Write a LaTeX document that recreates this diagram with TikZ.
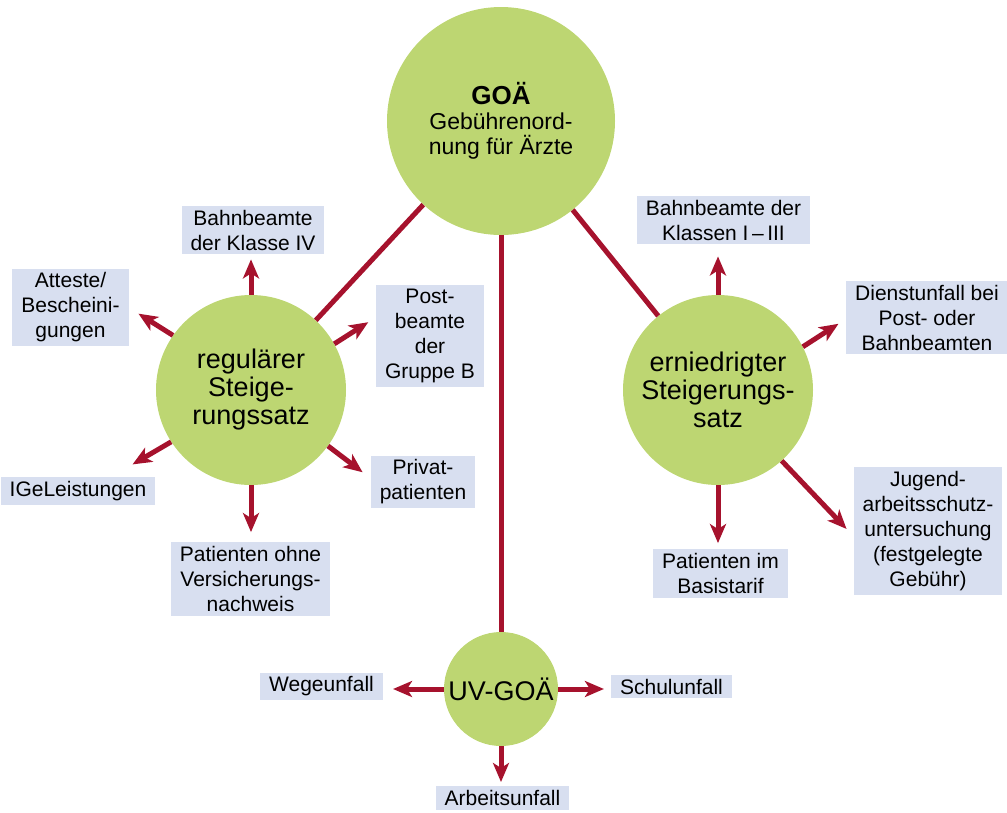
\documentclass[tikz,border=0pt]{standalone}
\usepackage{fontspec}
\setmainfont{Liberation Sans}
\usetikzlibrary{arrows.meta}
\definecolor{goagreen}{HTML}{BDD672}
\definecolor{goared}{HTML}{A6122D}
\definecolor{goabox}{HTML}{D8DFF0}
\tikzset{
  satz/.style={circle,fill=goagreen,inner sep=0pt,align=center,font=\fontsize{27}{28}\selectfont},
  fall/.style={fill=goabox,inner xsep=9pt,inner ysep=4pt,align=center,font=\fontsize{21}{25}\selectfont},
  link/.style={goared,line width=5pt},
  pfeil/.style={link,-{Stealth[length=19pt,width=16pt,inset=5pt]}}
}

\begin{document}
\begin{tikzpicture}[x=1pt,y=-1pt]
  \useasboundingbox (0,0) rectangle (1007,812);
  % circles
  \node[satz,minimum size=228pt,font=\fontsize{23}{25}\selectfont] (goae) at (501,121)
    {{\fontsize{26}{25}\selectfont\bfseries GOÄ}\\Gebührenord-\\nung für Ärzte};
  \node[satz,minimum size=190pt] (reg) at (251,390) {regulärer\\Steige-\\rungssatz};
  \node[satz,minimum size=190pt] (ern) at (718,390) {erniedrigter\\Steigerungs-\\satz};
  \node[satz,minimum size=114pt] (uv) at (501,689) {UV-GOÄ};
  % boxes
  \node[fall] (bb4) at (253,230) {Bahnbeamte\\der Klasse IV};
  \node[fall] (att) at (70.5,307.5) {Atteste/\\Bescheini-\\gungen};
  \node[fall] (post) at (430,336) {Post-\\beamte\\der\\Gruppe B};
  \node[fall] (priv) at (423,482) {Privat-\\patienten};
  \node[fall] (igel) at (78,491) {IGeLeistungen};
  \node[fall] (pohne) at (250.5,579) {Patienten ohne\\Versicherungs-\\nachweis};
  \node[fall] (bb13) at (723.5,220) {Bahnbeamte der\\Klassen I\,--\,III};
  \node[fall] (dienst) at (927,317.5) {Dienstunfall bei\\Post- oder\\Bahnbeamten};
  \node[fall] (pim) at (720.5,573.5) {Patienten im\\Basistarif};
  \node[fall] (jug) at (928,531) {Jugend-\\arbeitsschutz-\\untersuchung\\(festgelegte\\Gebühr)};
  \node[fall] (wege) at (321.5,686.5) {Wegeunfall};
  \node[fall] (schul) at (671.5,686.5) {Schulunfall};
  \node[fall,anchor=north] (arb) at (502.5,786) {Arbeitsunfall};
  % links
  \draw[link] (goae) -- (reg);
  \draw[link] (goae) -- (ern);
  \draw[link] (goae) -- (uv);
  % arrows
  \foreach \from/\to/\gap in {reg.north/reg.north |- bb4.south/5, reg.145/att.east/11.5,
      reg.29/post.161/9, reg.213/igel.23/25, reg.324/priv.176/10,
      reg.south/reg.south |- pohne.north/10, ern.north/ern.north |- bb13.south/12,
      ern.27/dienst.181/9, ern.south/ern.south |- pim.north/6, ern.312/jug.184/10,
      uv.west/uv.west -| wege.east/10, uv.east/uv.east -| schul.west/7,
      uv.south/uv.south |- arb.north/4} {
    \draw[pfeil,shorten >=\gap pt] (\from) -- (\to);
  }
\end{tikzpicture}
\end{document}
